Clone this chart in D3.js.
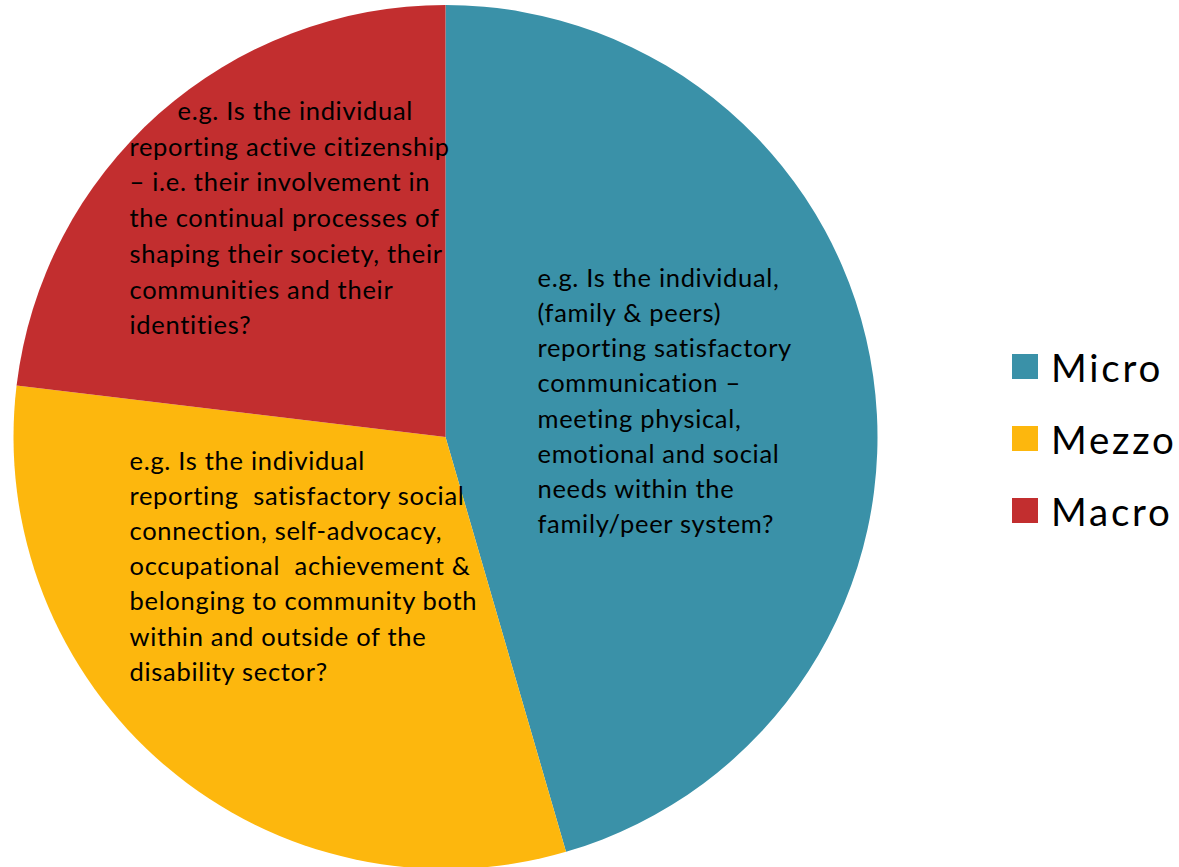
<!DOCTYPE html>
<html>
<head>
<meta charset="utf-8">
<script src="https://cdn.jsdelivr.net/npm/d3@7"></script>
<style>
  html, body { margin: 0; padding: 0; background: #fff; }
  svg { display: block; }
</style>
</head>
<body>
<svg id="chart"></svg>
<script>
// data
const categories = ["Micro", "Mezzo", "Macro"];
const values = [45.5, 31.4, 23.1];
const sliceText = [
  ["e.g. Is the individual,", "(family & peers)", "reporting satisfactory", "communication \u2013",
   "meeting physical,", "emotional and social", "needs within the", "family/peer system?"],
  ["e.g. Is the individual", "reporting  satisfactory social", "connection, self-advocacy,",
   "occupational  achievement &", "belonging to community both", "within and outside of the",
   "disability sector?"],
  ["e.g. Is the individual", "reporting active citizenship", "\u2013 i.e. their involvement in",
   "the continual processes of", "shaping their society, their", "communities and their", "identities?"]
];
const colors = ["#3a91a8", "#fdb70d", "#c22e2f"];

const width = 1179, height = 867;
const cx = 445.5, cy = 437, radius = 432;
const font = "'Gill Sans', 'Gill Sans MT', Lato, sans-serif";

const svg = d3.select("#chart")
    .attr("width", width)
    .attr("height", height)
    .attr("font-family", font);

const color = d3.scaleOrdinal().domain(categories).range(colors);

const pie = d3.pie().sort(null).value(d => d.v);
const arcs = pie(categories.map((c, i) => ({c: c, v: values[i]})));
const arc = d3.arc().innerRadius(0).outerRadius(radius);

const g = svg.append("g").attr("transform", `translate(${cx},${cy})`);

g.selectAll("path")
    .data(arcs)
    .join("path")
    .attr("d", arc)
    .attr("fill", d => color(d.data.c));

// text blocks inside slices (offsets from centre), first line indent
const textPos = [
  {x: 92, y: -150, lh: 35.15, indent: 0},
  {x: -316, y: 33, lh: 35.1, indent: 0},
  {x: -316, y: -317, lh: 35.7, indent: 48}
];

sliceText.forEach((lines, i) => {
  const t = g.append("text")
      .attr("font-size", 25.5)
      .attr("letter-spacing", 0.7)
      .attr("fill", "#000")
      .style("white-space", "pre");
  t.selectAll("tspan")
    .data(lines)
    .join("tspan")
      .attr("x", (d, j) => textPos[i].x + (j === 0 ? textPos[i].indent : 0))
      .attr("y", (d, j) => textPos[i].y + j * textPos[i].lh)
      .text(d => d);
});

// legend
const legend = svg.append("g").attr("transform", "translate(1012,354)");
const item = legend.selectAll("g")
    .data(categories)
    .join("g")
    .attr("transform", (d, i) => `translate(0,${i * 72})`);
item.append("rect")
    .attr("width", 26)
    .attr("height", 25)
    .attr("fill", d => color(d));
item.append("text")
    .attr("x", 39)
    .attr("y", 28)
    .attr("font-size", 38.5)
    .attr("letter-spacing", 2.8)
    .attr("fill", "#000")
    .text(d => d);
</script>
</body>
</html>
